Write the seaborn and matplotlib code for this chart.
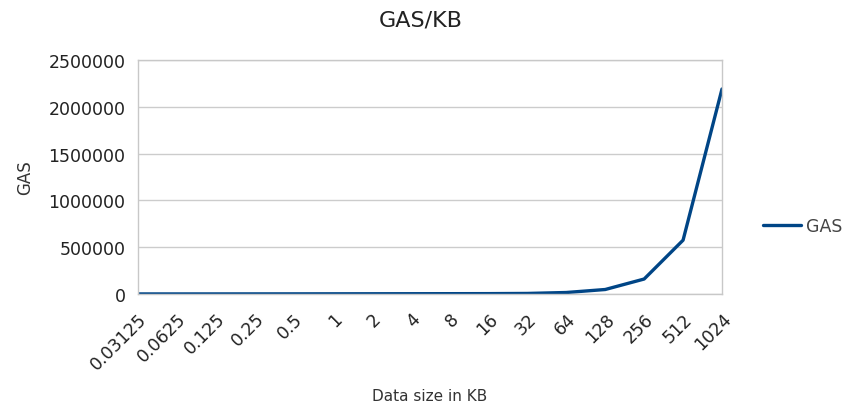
import matplotlib
matplotlib.use("Agg")
import matplotlib.pyplot as plt
import seaborn as sns
import pandas as pd

sizes = ["0.03125", "0.0625", "0.125", "0.25", "0.5", "1", "2", "4", "8",
         "16", "32", "64", "128", "256", "512", "1024"]
gas = [600, 700, 900, 1200, 1500, 2000, 2500, 3000, 3500, 4000, 6000,
       16000, 48000, 160000, 575000, 2190000]

df = pd.DataFrame({"size": sizes, "GAS": gas, "series": "GAS"})
df["pos"] = range(len(sizes))

sns.set_style("white")
plt.rcParams["font.family"] = ["DejaVu Sans"]

fig = plt.figure(figsize=(8.47, 4.10), dpi=100)
ax = fig.add_axes([138 / 847, 1 - 295 / 410, (722 - 138) / 847, (295 - 61) / 410])

sns.lineplot(data=df, x="pos", y="GAS", hue="series", palette=["#004586"],
             linewidth=2.4, ax=ax, legend=True)

ax.set_xlim(0, len(sizes) - 1)
ax.set_ylim(0, 2500000)
ax.set_yticks([0, 500000, 1000000, 1500000, 2000000, 2500000])
ax.set_yticklabels(["0", "500000", "1000000", "1500000", "2000000", "2500000"],
                   fontsize=12.5, color="#222222")
ax.set_xticks(range(len(sizes)))
ax.set_xticklabels(sizes, rotation=45, ha="right", rotation_mode="anchor",
                   fontsize=12.5, color="#222222")
ax.yaxis.grid(True, color="#cccccc", linewidth=1)
ax.xaxis.grid(False)
for s in ax.spines.values():
    s.set_color("#c8c8c8")
    s.set_linewidth(1)
ax.tick_params(axis="both", which="both", length=5, color="#c8c8c8",
               direction="out", pad=4)
ax.tick_params(axis="x", pad=6)
ax.set_axisbelow(True)

ax.set_xlabel("")
ax.set_ylabel("GAS", fontsize=12, color="#333333", labelpad=10)
fig.text(0.507, 1 - 397 / 410, "Data size in KB", ha="center", va="center",
         fontsize=11, color="#333333")
fig.text(0.497, 1 - 20 / 410, "GAS/KB", ha="center", va="center",
         fontsize=16, color="#222222")

leg = ax.legend(loc="center left", bbox_to_anchor=(1.07, 0.29), frameon=False,
                fontsize=12.5, handlelength=2.2, handletextpad=0.3,
                borderaxespad=0, borderpad=0)
for t in leg.get_texts():
    t.set_color("#444444")

fig.savefig("out.png", dpi=100)
